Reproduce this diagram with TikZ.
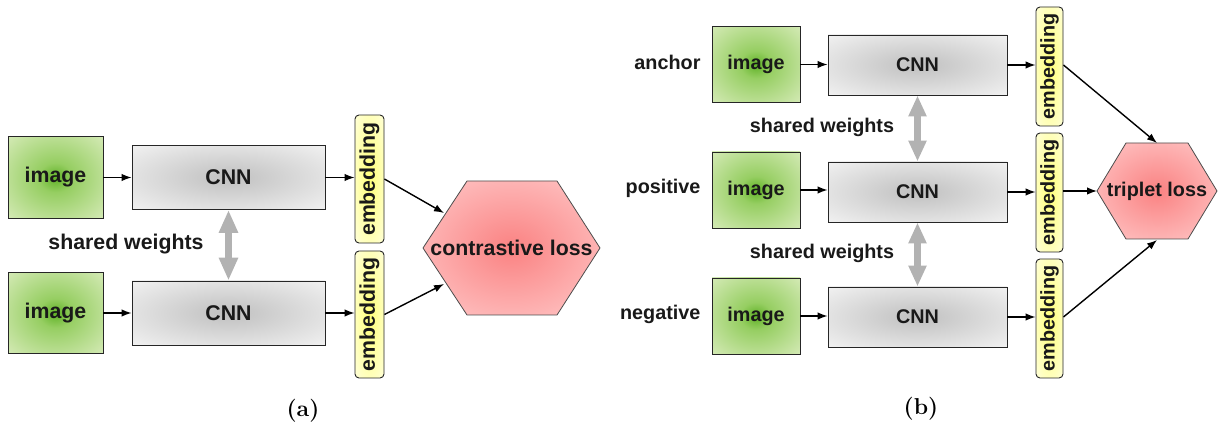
\documentclass[tikz,border=0pt]{standalone}
\usepackage{fontspec}
\setsansfont{Liberation Sans}
\usetikzlibrary{arrows.meta}
\definecolor{gin}{RGB}{95,178,38}
\definecolor{gmid}{RGB}{150,206,98}
\definecolor{gout}{RGB}{232,243,208}
\definecolor{cin}{RGB}{192,192,192}
\definecolor{cout}{RGB}{242,242,242}
\definecolor{yin}{RGB}{255,255,120}
\definecolor{yout}{RGB}{255,255,218}
\definecolor{rin}{RGB}{250,130,130}
\definecolor{rout}{RGB}{255,202,202}
\definecolor{sw}{RGB}{178,178,178}
\definecolor{txt}{RGB}{25,25,25}
\pgfdeclareradialshading{shimg}{\pgfpoint{0bp}{0bp}}{color(0bp)=(gin); color(9bp)=(gmid); color(44bp)=(gout); color(50bp)=(gout)}
\pgfdeclareradialshading{shcnn}{\pgfpoint{0bp}{0bp}}{color(0bp)=(cin); color(36bp)=(cout); color(50bp)=(cout)}
\pgfdeclareradialshading{shemb}{\pgfpoint{0bp}{0bp}}{color(0bp)=(yin); color(36bp)=(yout); color(50bp)=(yout)}
\pgfdeclareradialshading{shhex}{\pgfpoint{0bp}{0bp}}{color(0bp)=(rin); color(36bp)=(rout); color(50bp)=(rout)}
\tikzset{
  fa/.style={font=\fontsize{21.3}{24}\sffamily\bfseries, text=txt},
  fb/.style={font=\fontsize{19.8}{22}\sffamily\bfseries, text=txt},
  imgbox/.style={draw=black!85, line width=0.9pt, shading=shimg, inner sep=0pt},
  cnnbox/.style={draw=black!85, line width=0.9pt, shading=shcnn, inner sep=0pt},
  embbox/.style={draw=black!85, line width=0.9pt, rounded corners=4pt, shading=shemb, inner sep=0pt},
  hexfill/.style={draw=black!70, line width=0.8pt, shading=shhex},
  conn/.style={-{Latex[length=10pt,width=7.5pt]}, line width=1.4pt, black},
  swa/.style={draw=sw, line width=7.5pt, {Triangle[length=23pt,width=18pt]}-{Triangle[length=23pt,width=18pt]}},
  swb/.style={draw=sw, line width=7pt, {Triangle[length=21pt,width=17pt]}-{Triangle[length=21pt,width=17pt]}},
  captxt/.style={font=\fontsize{23}{26}\selectfont\bfseries}
}
\begin{document}
\begin{tikzpicture}[x=1pt,y=-1pt]
\useasboundingbox (0,0) rectangle (1224,430);
% ---------------- panel (a) ----------------
\node[imgbox, fa, minimum width=95pt, minimum height=82pt] (ia1) at (55.5,177.5) {image};
\node[cnnbox, fa, minimum width=193pt, minimum height=64pt] (ca1) at (228.5,177.5) {CNN};
\node[embbox, fa, minimum width=29pt, minimum height=128pt] (ea1) at (369.5,179) {\rotatebox{90}{embedding}};
\node[imgbox, fa, minimum width=95pt, minimum height=81pt] (ia2) at (55.5,313) {image};
\node[cnnbox, fa, minimum width=193pt, minimum height=64pt] (ca2) at (228.5,313) {CNN};
\node[embbox, fa, minimum width=29pt, minimum height=127pt] (ea2) at (369.5,314.5) {\rotatebox{90}{embedding}};
\node[fa] (swa) at (126,244) {shared weights};
\shade[hexfill] (423,248) -- (467,181) -- (557,181) -- (600,248) -- (557,315) -- (467,315) -- cycle;
\node[fa] (closs) at (511.5,248) {contrastive loss};
\coordinate (ha1) at (444,213);
\coordinate (ha2) at (444,284);
\draw[conn] (ia1) -- (ca1);
\draw[conn] (ia2) -- (ca2);
\draw[conn] (ca1.east) -- (ca1.east -| ea1.west);
\draw[conn] (ca2.east) -- (ca2.east -| ea2.west);
\draw[conn] (ea1.east) -- (ha1);
\draw[conn] (ea2.east) -- (ha2);
\draw[swa] (ca1.south) -- (ca2.north);
\node[captxt] (la) at (303,411) {(a)};
% ---------------- panel (b) ----------------
\node[fb, anchor=east] (lanc) at (704,62) {anchor};
\node[fb, anchor=east] (lpos) at (704,188) {positive};
\node[fb, anchor=east] (lneg) at (704,314) {negative};
\node[imgbox, fb, minimum width=88pt, minimum height=76pt] (ib1) at (756,64.5) {image};
\node[imgbox, fb, minimum width=88pt, minimum height=76pt] (ib2) at (756,190) {image};
\node[imgbox, fb, minimum width=88pt, minimum height=76pt] (ib3) at (756,316) {image};
\node[cnnbox, fb, minimum width=179pt, minimum height=60pt] (cb1) at (917.5,65) {CNN};
\node[cnnbox, fb, minimum width=179pt, minimum height=60pt] (cb2) at (917.5,192) {CNN};
\node[cnnbox, fb, minimum width=179pt, minimum height=60pt] (cb3) at (917.5,317) {CNN};
\node[embbox, fb, minimum width=27pt, minimum height=119pt] (eb1) at (1049.5,66.5) {\rotatebox{90}{embedding}};
\node[embbox, fb, minimum width=27pt, minimum height=119pt] (eb2) at (1049.5,192.5) {\rotatebox{90}{embedding}};
\node[embbox, fb, minimum width=27pt, minimum height=119pt] (eb3) at (1049.5,318.5) {\rotatebox{90}{embedding}};
\node[fb] (swb1) at (822,127) {shared weights};
\node[fb] (swb2) at (822,253) {shared weights};
\shade[hexfill] (1097,191) -- (1126,143) -- (1188,143) -- (1217,191) -- (1188,239) -- (1126,239) -- cycle;
\node[fb] (tloss) at (1157,191) {triplet loss};
\coordinate (hb1) at (1157,143);
\coordinate (hb2) at (1097,191);
\coordinate (hb3) at (1157,240);
\draw[conn] (ib1.east) -- (ib1.east -| cb1.west);
\draw[conn] (ib2.east) -- (ib2.east -| cb2.west);
\draw[conn] (ib3.east) -- (ib3.east -| cb3.west);
\draw[conn] (cb1.east) -- (cb1.east -| eb1.west);
\draw[conn] (cb2.east) -- (cb2.east -| eb2.west);
\draw[conn] (cb3.east) -- (cb3.east -| eb3.west);
\draw[conn] (cb1.east -| eb1.east) -- (hb1);
\draw[conn] (hb2 -| eb2.east) -- (hb2);
\draw[conn] (cb3.east -| eb3.east) -- (hb3);
\draw[swb] (cb1.south) -- (cb2.north);
\draw[swb] (cb2.south) -- (cb3.north);
\node[captxt] (lb) at (921,409) {(b)};
\end{tikzpicture}
\end{document}
